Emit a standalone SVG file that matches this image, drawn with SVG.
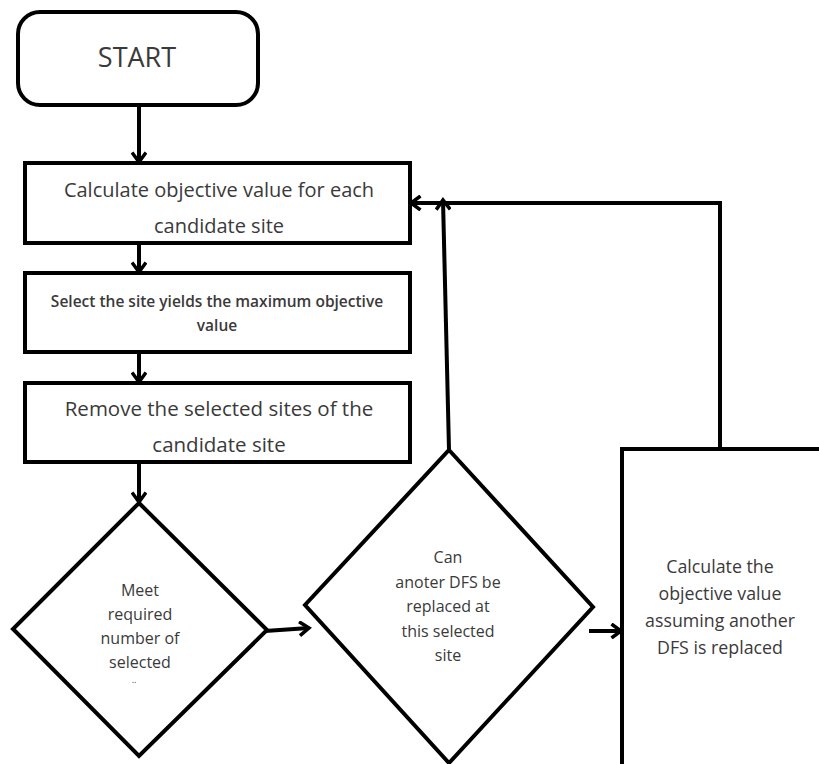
<svg xmlns="http://www.w3.org/2000/svg" width="819" height="764" viewBox="0 0 819 764">
<style>
.n{fill:#fff;stroke:#000;stroke-width:4}
.c{fill:none;stroke:#000;stroke-width:4}
text{font-family:"Open Sans","Liberation Sans",sans-serif;fill:#3a3a3a;text-anchor:middle}
</style>
<defs>
<marker id="ah" markerWidth="14" markerHeight="16" refX="11" refY="8" orient="auto" markerUnits="userSpaceOnUse">
<path d="M1.5,1 L11,8 L1.5,15" fill="none" stroke="#000" stroke-width="3.5"/>
</marker>
</defs>
<rect width="819" height="764" fill="#fff"/>
<g id="connectors">
<path class="c" d="M139,105 V162" marker-end="url(#ah)"/>
<path class="c" d="M139,243 V272" marker-end="url(#ah)"/>
<path class="c" d="M139,352 V382" marker-end="url(#ah)"/>
<path class="c" d="M139,462 V502" marker-end="url(#ah)"/>
<path class="c" d="M265,631 L309,628" marker-end="url(#ah)"/>
<path class="c" d="M589,631 L621,631" marker-end="url(#ah)"/>
<path class="c" d="M449,450 L443,200" marker-end="url(#ah)"/>
<path class="c" d="M720,449 V203 H411" marker-end="url(#ah)"/>
</g>
<g id="start">
<rect class="n" x="18" y="12" width="240" height="93" rx="22"/>
<text x="137" y="67" font-size="27">START</text>
</g>
<g id="calc">
<rect class="n" x="25" y="163" width="385" height="80"/>
<text x="219" y="197" font-size="20">Calculate objective value for each</text>
<text x="219" y="233" font-size="20">candidate site</text>
</g>
<g id="select">
<rect class="n" x="25" y="273" width="385" height="79"/>
<text x="217" y="307" font-size="15.5" font-weight="600">Select the site yields the maximum objective</text>
<text x="217" y="331" font-size="15.5" font-weight="600">value</text>
</g>
<g id="remove">
<rect class="n" x="25" y="383" width="385" height="79"/>
<text x="219" y="416" font-size="20.5">Remove the selected sites  of the</text>
<text x="219" y="452" font-size="20.5">candidate site</text>
</g>
<g id="meet">
<polygon class="n" points="139,503 267,630 139,756 13,629"/>
<text x="140" y="596" font-size="16">Meet</text>
<text x="140" y="620" font-size="16">required</text>
<text x="140" y="644" font-size="16">number of</text>
<text x="140" y="668" font-size="16">selected</text>
<text x="134" y="683" font-size="9" fill="#999">..</text>
</g>
<g id="can">
<polygon class="n" points="449,450 593,607 449,763 305,605"/>
<text x="448" y="563" font-size="16">Can</text>
<text x="448" y="588" font-size="16">anoter DFS be</text>
<text x="448" y="612" font-size="16">replaced at</text>
<text x="448" y="637" font-size="16">this  selected</text>
<text x="448" y="661" font-size="16">site</text>
</g>
<g id="calcdfs">
<rect class="n" x="622" y="449" width="210" height="330"/>
<text x="720" y="573" font-size="17.8">Calculate the</text>
<text x="720" y="600" font-size="17.8">objective value</text>
<text x="720" y="627" font-size="17.8">assuming another</text>
<text x="720" y="654" font-size="17.8">DFS is replaced</text>
</g>
</svg>
